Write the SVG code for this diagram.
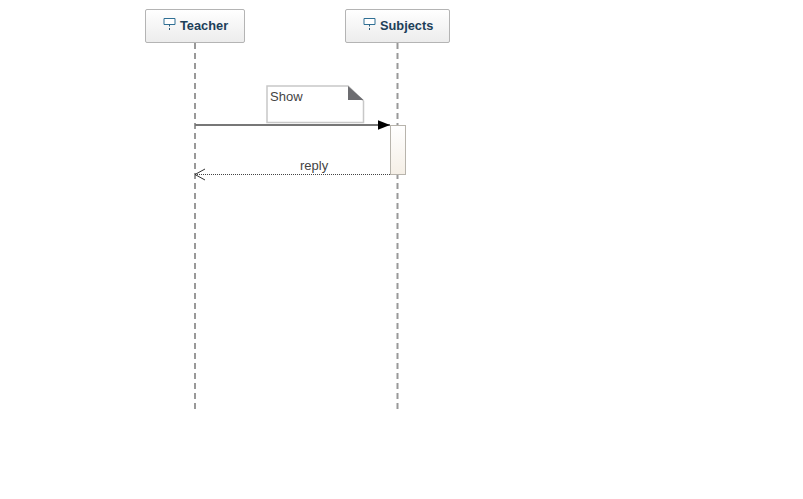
<svg xmlns="http://www.w3.org/2000/svg" width="803" height="499" viewBox="0 0 803 499">
<defs>
<linearGradient id="hd" x1="0" y1="0" x2="0" y2="1"><stop offset="0" stop-color="#ffffff"/><stop offset="1" stop-color="#ececec"/></linearGradient>
<linearGradient id="act" x1="0" y1="0" x2="0" y2="1"><stop offset="0" stop-color="#ffffff"/><stop offset="1" stop-color="#f5efe6"/></linearGradient>
<marker id="solid" markerUnits="userSpaceOnUse" markerWidth="14" markerHeight="12" refX="12.500" refY="6" orient="auto"><path d="M0 1L12.500 6L0 11Z" fill="#000"/></marker>
<marker id="open" markerUnits="userSpaceOnUse" markerWidth="14" markerHeight="14" refX="11" refY="6.500" orient="auto"><path d="M1 1L11 6.500L1 12" fill="none" stroke="#333" stroke-width="1"/></marker>
<g id="icon"><path d="M0 0H11V6H0Z" fill="#fff" stroke="#2f6f94" stroke-width="1"/><path d="M5.500 6V13" stroke="#2a5a78" stroke-width="1" stroke-dasharray="2 1.500"/></g>
</defs>
<style>
.life{stroke:#999;stroke-width:2;stroke-dasharray:6 4;fill:none}
.hd{fill:url(#hd);stroke:#b4b4b4;stroke-width:1}
.name{font:bold 12.800px "Liberation Sans",Arial,sans-serif;fill:#1d4059}
.lbl{font:13px "Liberation Sans",Arial,sans-serif;fill:#444}
</style>
<rect width="803" height="499" fill="#fff"/>
<g id="connectors">
<path class="life" d="M195 43V409"/>
<path class="life" d="M397.500 43V409"/>
<path d="M195 125H390" stroke="#777" stroke-width="2" fill="none" marker-end="url(#solid)"/>
<path d="M390 174.500H195" stroke="#444" stroke-width="1" stroke-dasharray="1 1" fill="none" marker-end="url(#open)"/>
</g>
<g id="teacher">
<rect class="hd" x="145.500" y="9.500" width="99" height="33" rx="1.500"/>
<use href="#icon" x="164" y="18.500"/>
<text class="name" x="180" y="30">Teacher</text>
</g>
<g id="subjects">
<rect class="hd" x="345.500" y="9.500" width="104" height="33" rx="1.500"/>
<use href="#icon" x="364" y="18.500"/>
<text class="name" x="380" y="30">Subjects</text>
</g>
<g id="note">
<path d="M267 86H348L363.500 101V122.500H267Z" fill="#fff" stroke="#c8c8c8" stroke-width="1.500"/>
<path d="M348 86L363.500 100H348Z" fill="#6c6c70"/>
<text class="lbl" x="270" y="101">Show</text>
</g>
<g id="activation">
<rect x="390.500" y="125.500" width="15" height="49" fill="url(#act)" stroke="#b8b4ac" stroke-width="1"/>
</g>
<g id="reply-label"><text class="lbl" x="300" y="170">reply</text></g>
</svg>
